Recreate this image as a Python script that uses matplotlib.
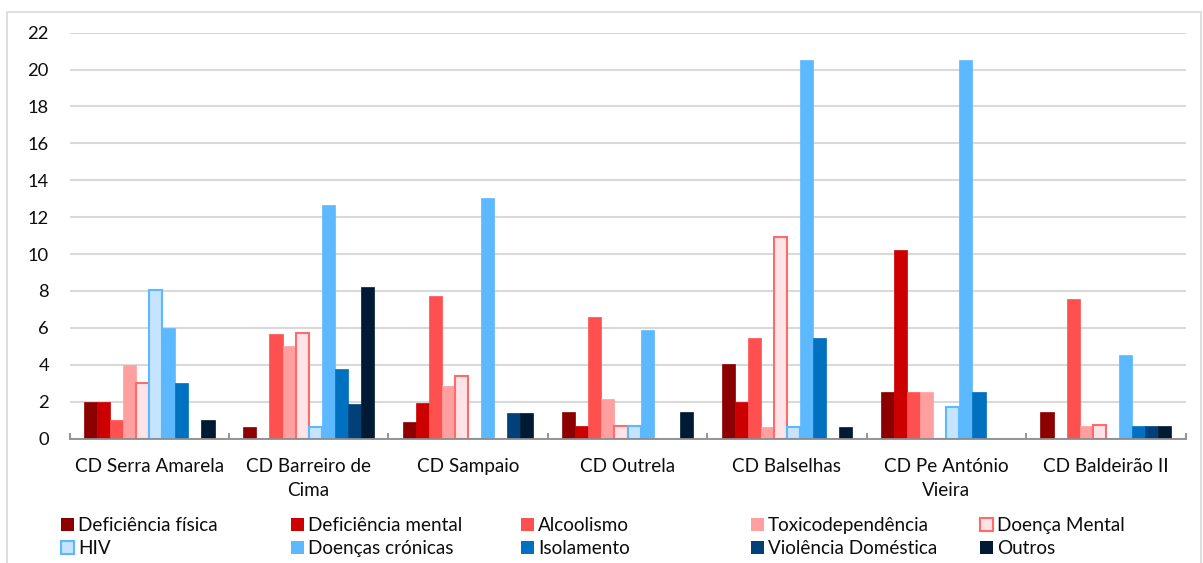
import matplotlib
matplotlib.use("Agg")
import matplotlib.pyplot as plt
import numpy as np
from matplotlib.patches import Rectangle, Patch

plt.rcParams['font.family'] = ['Lato', 'DejaVu Sans']

categories = ["CD Serra Amarela", "CD Barreiro de\nCima", "CD Sampaio", "CD Outrela",
              "CD Balselhas", "CD Pe António\nVieira", "CD Baldeirão II"]

series_names = ["Deficiência física", "Deficiência mental", "Alcoolismo",
                "Toxicodependência", "Doença Mental", "HIV", "Doenças crónicas",
                "Isolamento", "Violência Doméstica", "Outros"]

deficiencia_fisica = [2.0, 0.6, 0.9, 1.45, 4.05, 2.5, 1.45]
deficiencia_mental = [2.0, 0.0, 1.9, 0.7, 2.0, 10.2, 0.0]
alcoolismo = [1.0, 5.65, 7.75, 6.6, 5.45, 2.5, 7.55]
toxicodependencia = [4.0, 5.0, 2.85, 2.15, 0.6, 2.5, 0.7]
doenca_mental = [3.0, 5.7, 3.4, 0.7, 10.95, 0.0, 0.75]
hiv = [8.05, 0.6, 0.0, 0.7, 0.65, 1.7, 0.0]
doencas_cronicas = [6.0, 12.65, 13.05, 5.9, 20.5, 20.5, 4.5]
isolamento = [3.0, 3.75, 0.0, 0.0, 5.45, 2.5, 0.7]
violencia_domestica = [0.0, 1.85, 1.4, 0.0, 0.0, 0.0, 0.7]
outros = [1.0, 8.2, 1.4, 1.45, 0.6, 0.0, 0.7]

series_values = [deficiencia_fisica, deficiencia_mental, alcoolismo, toxicodependencia,
                 doenca_mental, hiv, doencas_cronicas, isolamento,
                 violencia_domestica, outros]

face_colors = ["#8c0000", "#cc0000", "#ff5050", "#ff9f9f", "#ffe3e6",
               "#c6e4ff", "#5cb8ff", "#0070c0", "#00417a", "#001a33"]
edge_colors = ["#8c0000", "#cc0000", "#ff5050", "#ff9f9f", "#ff6b6b",
               "#5cb8ff", "#5cb8ff", "#0070c0", "#00417a", "#001a33"]
edge_widths = [0.5, 0.5, 0.5, 0.5, 1.5, 1.5, 0.5, 0.5, 0.5, 0.5]

W, H = 1203, 563
fig = plt.figure(figsize=(W / 100, H / 100), dpi=100)
fig.patch.set_facecolor("white")

# outer chart frame
fig.patches.append(Rectangle((7 / W, -0.05), (1201 - 7) / W, 1.05 - 12 / H,
                             transform=fig.transFigure, fill=False,
                             edgecolor="#d9d9d9", linewidth=1.2))

left, right = 69.5 / W, 1185.5 / W
bottom, top = (H - 438.5) / H, (H - 32.7) / H
ax = fig.add_axes([left, bottom, right - left, top - bottom])

n_cat = len(categories)
n_ser = len(series_values)
bar_w = 0.0819
x = np.arange(n_cat)
handles = []
for i, (vals, name) in enumerate(zip(series_values, series_names)):
    offs = (i - (n_ser - 1) / 2) * bar_w
    ax.bar(x + offs, vals, width=bar_w, color=face_colors[i],
           edgecolor=edge_colors[i], linewidth=edge_widths[i], zorder=3)
    handles.append(Patch(facecolor=face_colors[i], edgecolor=edge_colors[i],
                         linewidth=edge_widths[i] if edge_widths[i] > 1 else 0,
                         label=name))

ax.set_xlim(-0.5, n_cat - 0.5)
ax.set_ylim(0, 22)
ax.set_yticks(np.arange(0, 23, 2))
ax.yaxis.grid(True, color="#d9d9d9", linewidth=1.5, zorder=0)
ax.set_axisbelow(True)
for s in ["top", "right", "left"]:
    ax.spines[s].set_visible(False)
ax.spines["bottom"].set_color("#8c8c8c")
ax.spines["bottom"].set_linewidth(1.3)
ax.spines["bottom"].set_zorder(4)

text_color = "#0d0d0d"
fs = 13.6
ax.tick_params(axis="y", length=0, pad=14.8, labelsize=13.2, labelcolor=text_color)
ax.set_xticks(x)
ax.set_xticklabels(categories, fontsize=fs, color=text_color, linespacing=1.5)
ax.tick_params(axis="x", which="major", length=0, pad=14)
ax.set_xticks(np.arange(-0.5, n_cat, 1.0), minor=True)
ax.tick_params(axis="x", which="minor", length=4.5, direction="in",
               color="#8c8c8c", width=1.3)

legend_x = [61, 291, 521, 751, 980]
for c in range(5):
    lg = fig.legend(handles=[handles[c], handles[c + 5]], loc="upper left",
                    bbox_to_anchor=(legend_x[c] / W, (H - 517) / H),
                    frameon=False, fontsize=fs, handlelength=0.67,
                    handleheight=0.67, handletextpad=0.23, labelspacing=0.32,
                    borderpad=0, borderaxespad=0, labelcolor=text_color)

fig.savefig("out.png", dpi=100, facecolor="white")
